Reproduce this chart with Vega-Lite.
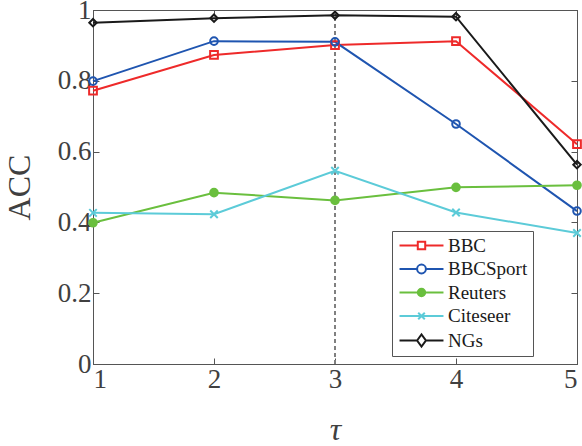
{
  "$schema": "https://vega.github.io/schema/vega-lite/v6.json",
  "width": 484,
  "height": 354,
  "autosize": "none",
  "padding": {"left": 93, "top": 10, "right": 5, "bottom": 82},
  "background": "white",
  "config": {
    "font": "Liberation Serif",
    "view": {"stroke": "#555555", "strokeWidth": 1},
    "axis": {
      "grid": false,
      "domainColor": "#555555",
      "tickColor": "#555555",
      "tickSize": -6,
      "labelFont": "Liberation Serif",
      "labelFontSize": 27,
      "labelColor": "#404040",
      "titleFont": "Liberation Serif",
      "titleFontWeight": "normal",
      "titleColor": "#404040"
    },
    "legend": {"labelFont": "Liberation Serif"}
  },
  "data": {
    "values": [
      {"tau": 1, "acc": 0.772, "series": "BBC"},
      {"tau": 2, "acc": 0.873, "series": "BBC"},
      {"tau": 3, "acc": 0.901, "series": "BBC"},
      {"tau": 4, "acc": 0.912, "series": "BBC"},
      {"tau": 5, "acc": 0.621, "series": "BBC"},
      {"tau": 1, "acc": 0.799, "series": "BBCSport"},
      {"tau": 2, "acc": 0.912, "series": "BBCSport"},
      {"tau": 3, "acc": 0.910, "series": "BBCSport"},
      {"tau": 4, "acc": 0.678, "series": "BBCSport"},
      {"tau": 5, "acc": 0.432, "series": "BBCSport"},
      {"tau": 1, "acc": 0.399, "series": "Reuters"},
      {"tau": 2, "acc": 0.484, "series": "Reuters"},
      {"tau": 3, "acc": 0.462, "series": "Reuters"},
      {"tau": 4, "acc": 0.499, "series": "Reuters"},
      {"tau": 5, "acc": 0.505, "series": "Reuters"},
      {"tau": 1, "acc": 0.427, "series": "Citeseer"},
      {"tau": 2, "acc": 0.423, "series": "Citeseer"},
      {"tau": 3, "acc": 0.546, "series": "Citeseer"},
      {"tau": 4, "acc": 0.428, "series": "Citeseer"},
      {"tau": 5, "acc": 0.370, "series": "Citeseer"},
      {"tau": 1, "acc": 0.964, "series": "NGs"},
      {"tau": 2, "acc": 0.977, "series": "NGs"},
      {"tau": 3, "acc": 0.985, "series": "NGs"},
      {"tau": 4, "acc": 0.981, "series": "NGs"},
      {"tau": 5, "acc": 0.563, "series": "NGs"}
    ]
  },
  "layer": [
    {
      "mark": {"type": "line", "strokeWidth": 2},
      "encoding": {
        "x": {
          "field": "tau", "type": "quantitative",
          "scale": {"domain": [1, 5], "nice": false, "zero": false},
          "axis": {"orient": "bottom", "values": [1, 2, 3, 4, 5], "format": "d", "labelFont": "Liberation Serif", "labelPadding": 8, "title": "τ", "titleFontSize": 32, "titleFontStyle": "italic", "titlePadding": 22}
        },
        "y": {
          "field": "acc", "type": "quantitative",
          "scale": {"domain": [0, 1], "nice": false},
          "axis": {"orient": "left", "values": [0, 0.2, 0.4, 0.6, 0.8, 1], "labelExpr": "format(datum.value, '~g')", "labelFont": "Liberation Serif", "labelPadding": 8, "title": "ACC", "titleFontSize": 32, "titlePadding": 21}
        },
        "color": {
          "field": "series", "type": "nominal",
          "scale": {
            "domain": ["BBC", "BBCSport", "Reuters", "Citeseer", "NGs"],
            "range": ["#ee2a2a", "#1f55b0", "#6abf3e", "#5ccbd8", "#1a1a1a"]
          },
          "legend": {
            "title": null,
            "orient": "none",
            "legendX": 299,
            "legendY": 221,
            "strokeColor": "#555555",
            "fillColor": "white",
            "padding": 5,
            "labelFont": "Liberation Serif",
            "labelFontSize": 19,
            "labelColor": "#1a1a1a",
            "labelOffset": 17,
            "symbolOffset": 15,
            "symbolSize": 196,
            "symbolStrokeWidth": 2,
            "rowPadding": 3.5,
            "encoding": {
              "symbols": {
                "shape": {"value": {"expr": "datum.value === 'BBC' ? 'M-3.14,0L-0.53,0M0.53,0L3.14,0M-0.53,-0.53L0.53,-0.53L0.53,0.53L-0.53,0.53Z' : datum.value === 'BBCSport' ? 'M-3.14,0L-0.63,0M0.63,0L3.14,0M-0.63,0A0.63,0.63 0 1,0 0.63,0A0.63,0.63 0 1,0 -0.63,0Z' : datum.value === 'Reuters' ? 'M-3.14,0L-0.53,0M0.53,0L3.14,0M-0.53,0A0.53,0.53 0 1,0 0.53,0A0.53,0.53 0 1,0 -0.53,0Z' : datum.value === 'Citeseer' ? 'M-3.14,0L3.14,0M-0.47,-0.47L0.47,0.47M-0.47,0.47L0.47,-0.47' : 'M-3.14,0L-0.63,0M0.63,0L3.14,0M-0.63,0L0,-0.86L0.63,0L0,0.86Z'"}},
                "fill": {"value": {"expr": "datum.value === 'Reuters' ? '#6abf3e' : 'transparent'"}}
              }
            }
          }
        }
      }
    },
    {
      "mark": {"type": "rule", "color": "#808080", "strokeWidth": 1.5, "strokeDash": [4, 3]},
      "encoding": {
        "x": {"datum": 3, "type": "quantitative", "axis": null}
      }
    },
    {
      "mark": {"type": "point", "filled": false, "strokeWidth": 2, "opacity": 1},
      "encoding": {
        "x": {"field": "tau", "type": "quantitative", "axis": null},
        "y": {"field": "acc", "type": "quantitative", "axis": null},
        "stroke": {
          "field": "series", "type": "nominal",
          "scale": {
            "domain": ["NGs", "Citeseer", "Reuters", "BBCSport", "BBC"],
            "range": ["#1a1a1a", "#5ccbd8", "#6abf3e", "#1f55b0", "#ee2a2a"]
          },
          "legend": null
        },
        "shape": {
          "field": "series", "type": "nominal",
          "scale": {
            "domain": ["BBCSport", "BBC", "Reuters", "Citeseer", "NGs"],
            "range": ["circle", "square", "circle", "M-1,-1L1,1M-1,1L1,-1", "diamond"]
          },
          "legend": null
        },
        "size": {
          "field": "series", "type": "nominal",
          "scale": {
            "domain": ["BBC", "Reuters", "BBCSport", "Citeseer", "NGs"],
            "range": [60, 55, 90, 45, 110]
          },
          "legend": null
        },
        "fill": {
          "condition": {"test": "datum.series === 'Reuters'", "value": "#6abf3e"},
          "value": "transparent"
        }
      }
    },
    {
      "mark": {"type": "point", "opacity": 0},
      "encoding": {
        "x": {"field": "tau", "type": "quantitative", "axis": {"orient": "top", "values": [1, 2, 3, 4, 5], "labels": false, "title": null, "tickSize": -6}},
        "y": {"field": "acc", "type": "quantitative", "axis": {"orient": "right", "values": [0, 0.2, 0.4, 0.6, 0.8, 1], "labels": false, "title": null, "tickSize": -6}}
      }
    }
  ],
  "resolve": {
    "axis": {"x": "independent", "y": "independent"}
  }
}
